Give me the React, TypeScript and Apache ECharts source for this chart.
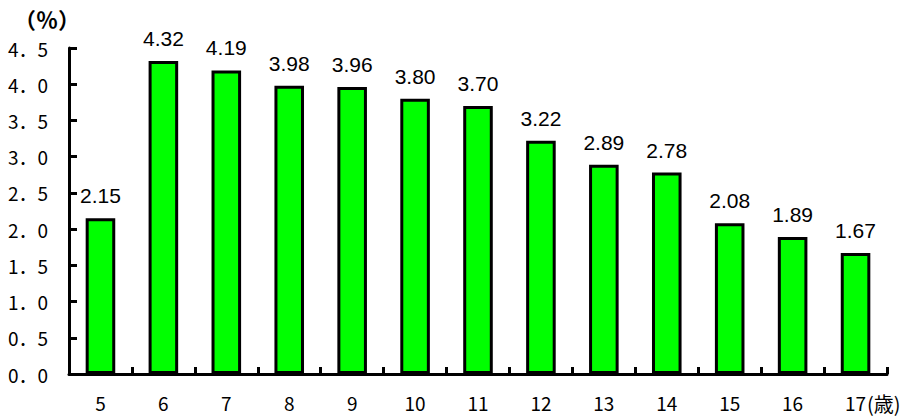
import React, { useEffect, useRef } from "react";
import * as echarts from "echarts";

const categories = ["5", "6", "7", "8", "9", "10", "11", "12", "13", "14", "15", "16", "17"];
const values = [2.15, 4.32, 4.19, 3.98, 3.96, 3.8, 3.7, 3.22, 2.89, 2.78, 2.08, 1.89, 1.67];
const yUnit = "（％）";
const xUnit = "(歳)";

const FONT = "'Noto Sans CJK JP', 'DejaVu Sans', sans-serif";
const LFONT = "'Liberation Sans', Arial, sans-serif";

export default function App() {
  const ref = useRef<HTMLDivElement>(null);
  useEffect(() => {
    if (!ref.current) return;
    const chart = echarts.init(ref.current, undefined, { renderer: "svg" });
    chart.setOption({
      animation: false,
      backgroundColor: "#ffffff",
      grid: { left: 69, right: 27, top: 48, bottom: 42, containLabel: false },
      xAxis: {
        type: "category",
        data: categories,
        boundaryGap: true,
        axisLine: { show: true, lineStyle: { color: "#000", width: 3 } },
        axisTick: { show: true, inside: true, length: 7, lineStyle: { color: "#000", width: 3 } },
        axisLabel: { color: "#000", fontSize: 19, fontFamily: FONT, margin: 19 },
        splitLine: { show: false },
      },
      yAxis: {
        type: "value",
        min: 0,
        max: 4.5,
        interval: 0.5,
        axisLine: { show: true, lineStyle: { color: "#000", width: 3 } },
        axisTick: { show: true, inside: true, length: 8, lineStyle: { color: "#000", width: 3 } },
        axisLabel: {
          color: "#000",
          fontSize: 19,
          fontFamily: FONT,
          margin: 21,
          formatter: (v: number) => v.toFixed(1).replace(".", "．"),
        },
        splitLine: { show: false },
      },
      series: [
        {
          type: "bar",
          data: values,
          barWidth: "47%",
          itemStyle: { color: "#00ff00", borderColor: "#000", borderWidth: 3 },
          label: {
            show: true,
            position: "top",
            distance: 12,
            color: "#000",
            fontSize: 21,
            fontFamily: LFONT,
            formatter: (p: any) => Number(p.value).toFixed(2),
          },
        },
      ],
      graphic: [
        {
          type: "text",
          left: 14,
          top: 7,
          style: { text: yUnit, fill: "#000", fontSize: 22, fontFamily: FONT, fontWeight: "bold" },
        },
        {
          type: "text",
          left: 867,
          top: 393,
          style: { text: xUnit, fill: "#000", fontSize: 20, fontFamily: FONT },
        },
      ],
    });
    return () => chart.dispose();
  }, []);
  return <div ref={ref} style={{ position: "fixed", left: 0, top: 0, width: 914, height: 416 }} />;
}
